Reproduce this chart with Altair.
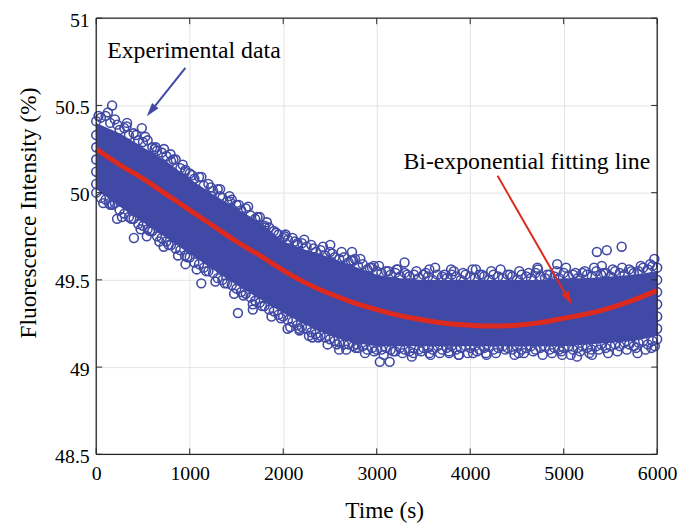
import altair as alt
import pandas as pd

BLUE = "#4049A5"
RED = "#DD2A1F"
DARK = "#262626"
FONT = "Liberation Serif"
W, H = 566, 440

x_ticks = [0, 1000, 2000, 3000, 4000, 5000, 6000]
y_ticks = [48.5, 49, 49.5, 50, 50.5, 51]

# fitted bi-exponential line
fit_t = [0, 250, 500, 750, 1000, 1250, 1500, 1750, 2000, 2250, 2500, 2750, 3000,
         3250, 3500, 3750, 4000, 4250, 4500, 4750, 5000, 5250, 5500, 5750, 6000]
fit_y = [50.25, 50.16, 50.08, 49.99, 49.90, 49.81, 49.72, 49.64, 49.555, 49.48, 49.42,
         49.37, 49.33, 49.295, 49.27, 49.25, 49.24, 49.235, 49.24, 49.255, 49.28,
         49.305, 49.34, 49.385, 49.44]

# dense core of the experimental scatter (inner envelope)
core_t = fit_t
core_hi = [50.40, 50.34, 50.26, 50.18, 50.08, 49.99, 49.91, 49.83, 49.72, 49.67, 49.63,
           49.58, 49.53, 49.51, 49.50, 49.50, 49.50, 49.50, 49.50, 49.50, 49.51, 49.51,
           49.52, 49.53, 49.55]
core_lo = [50.02, 49.92, 49.83, 49.74, 49.65, 49.56, 49.47, 49.39, 49.31, 49.24, 49.18,
           49.14, 49.12, 49.12, 49.12, 49.12, 49.12, 49.12, 49.12, 49.12, 49.12, 49.13,
           49.14, 49.15, 49.18]

# experimental points along the upper and lower edges of the cloud
edge_t = list(range(0, 6001, 50))
upper_y = [50.41, 50.43, 50.44, 50.40, 50.42, 50.36, 50.37, 50.33, 50.34, 50.30,
           50.29, 50.30, 50.26, 50.24, 50.23, 50.21, 50.18, 50.19, 50.14, 50.12,
           50.11, 50.08, 50.09, 50.04, 50.05, 50.01, 50.02, 49.97, 49.95, 49.96,
           49.93, 49.90, 49.91, 49.87, 49.85, 49.86, 49.80, 49.80, 49.78, 49.76,
           49.74, 49.73, 49.74, 49.70, 49.71, 49.69, 49.70, 49.66, 49.67, 49.64,
           49.66, 49.63, 49.62, 49.63, 49.60, 49.61, 49.58, 49.59, 49.56, 49.57,
           49.55,
           49.54, 49.55, 49.53, 49.54, 49.52, 49.54, 49.52, 49.53, 49.51, 49.53,
           49.52, 49.50, 49.53, 49.52, 49.51, 49.53, 49.52, 49.50, 49.53, 49.52,
           49.51, 49.53, 49.52, 49.50, 49.53, 49.52, 49.51, 49.53, 49.52, 49.50,
           49.53, 49.52, 49.51, 49.54, 49.52, 49.51, 49.53, 49.52, 49.51, 49.54,
           49.52, 49.53, 49.51, 49.54, 49.53, 49.52, 49.55, 49.53, 49.54, 49.52,
           49.55, 49.54, 49.53, 49.56, 49.54, 49.55, 49.57, 49.56, 49.58, 49.57]
lower_y = [50.00, 49.97, 49.96, 49.93, 49.94, 49.90, 49.88, 49.86, 49.85, 49.82,
           49.81, 49.79, 49.78, 49.75, 49.74, 49.72, 49.70, 49.68, 49.67, 49.64,
           49.63, 49.60, 49.59, 49.57, 49.55, 49.54, 49.51, 49.50, 49.48, 49.47,
           49.45, 49.43, 49.42, 49.40, 49.38, 49.37, 49.35, 49.33, 49.32, 49.30,
           49.29, 49.27, 49.26, 49.24, 49.23, 49.22, 49.20, 49.19, 49.18, 49.17,
           49.16, 49.15, 49.14, 49.13, 49.13, 49.12, 49.11, 49.12, 49.10, 49.11,
           49.10,
           49.10, 49.11, 49.10, 49.09, 49.11, 49.10, 49.09, 49.11, 49.10, 49.11,
           49.11, 49.10, 49.12, 49.10, 49.11, 49.12, 49.10, 49.11, 49.12, 49.11,
           49.12, 49.10, 49.11, 49.12, 49.10, 49.11, 49.12, 49.11, 49.10, 49.12,
           49.10, 49.11, 49.12, 49.10, 49.11, 49.12, 49.10, 49.11, 49.10, 49.11,
           49.12, 49.10, 49.11, 49.12, 49.11, 49.10, 49.12, 49.13, 49.11, 49.12,
           49.13, 49.12, 49.14, 49.13, 49.12, 49.14, 49.15, 49.13, 49.15, 49.16]

# sparser, more ragged outer rows of points
outer_up_t = list(range(25, 6000, 100))
outer_up_y = [50.44, 50.46, 50.39, 50.38, 50.33, 50.32, 50.25, 50.25, 50.19, 50.16,
              50.10, 50.09, 50.03, 50.02, 49.98, 49.93, 49.92, 49.86, 49.83, 49.77,
              49.76, 49.72, 49.73, 49.68, 49.69, 49.65, 49.66, 49.61, 49.62, 49.57,
              49.58, 49.55,
              49.56, 49.53, 49.55, 49.54, 49.57, 49.53, 49.55, 49.54, 49.56, 49.53,
              49.55, 49.56, 49.53, 49.55, 49.54, 49.56, 49.53, 49.55, 49.57, 49.54,
              49.55, 49.57, 49.54, 49.56, 49.57, 49.55, 49.58, 49.59]
outer_lo_t = list(range(75, 6000, 100))
outer_lo_y = [49.94, 49.93, 49.86, 49.85, 49.79, 49.78, 49.72, 49.70, 49.64, 49.63,
              49.56, 49.55, 49.49, 49.48, 49.42, 49.41, 49.36, 49.35, 49.29, 49.28,
              49.23, 49.22, 49.18, 49.17, 49.13, 49.13, 49.10, 49.11, 49.08, 49.09,
              49.07, 49.09, 49.08, 49.06, 49.09, 49.07, 49.08, 49.09, 49.07, 49.08,
              49.09, 49.07, 49.08, 49.10, 49.07, 49.08, 49.09, 49.07, 49.08, 49.09,
              49.07, 49.09, 49.08, 49.10, 49.08, 49.09, 49.10, 49.11, 49.10, 49.12]

# scattered outlying points
out_t = [170, 330, 488, 636, 795, 955, 1230, 1325, 1430, 1465, 1800, 2015, 2153, 2503,
         2736, 2768, 2969, 3213, 3298, 3563, 3796, 4061, 4719, 4931, 5355, 5408, 5461,
         5620, 5970,
         138, 223, 403, 541, 721, 955, 1124, 1516, 1675, 2047, 2174, 2312, 2598, 2789,
         3033, 3139, 3393, 3563, 3775, 3881, 4030, 4168, 4518, 4984, 5143, 5302, 5790,
         5939,
         0, 0, 0, 0, 0, 6000, 6000, 6000, 6000, 6000]
out_y = [50.50, 50.40, 50.37, 50.26, 50.22, 50.13, 49.98, 49.98, 49.95, 49.90, 49.81,
         49.75, 49.71, 49.70, 49.66, 49.62, 49.58, 49.56, 49.60, 49.56, 49.56, 49.56,
         49.57, 49.59, 49.66, 49.58, 49.67, 49.69, 49.62,
         49.94, 49.85, 49.74, 49.75, 49.69, 49.59, 49.48, 49.31, 49.33, 49.22, 49.21,
         49.17, 49.10, 49.13, 49.03, 49.03, 49.08, 49.08, 49.08, 49.07, 49.08, 49.08,
         49.08, 49.07, 49.06, 49.07, 49.08, 49.11,
         50.05, 50.12, 50.19, 50.26, 50.33, 49.22, 49.29, 49.36, 49.43, 49.50]

# annotations
ann_text = ["Experimental data", "Bi-exponential fitting line"]
ann_t = [117, 3286]
ann_y = [50.773, 50.136]
arrow_color = [BLUE, RED]
arrow_t0 = [954, 4293]
arrow_y0 = [50.716, 50.097]
arrow_t1 = [583, 5036]
arrow_y1 = [50.466, 49.403]
tip_t = [541, 5088]
tip_y = [50.4375, 49.358]
tip_angle = [218.5, 150]

xs = alt.Scale(domain=[0, 6000], nice=False, zero=False)
ys = alt.Scale(domain=[48.5, 51], nice=False, zero=False)

fit_df = pd.DataFrame({"t": fit_t, "y": fit_y})
core_df = pd.DataFrame({"t": core_t, "lo": core_lo, "hi": core_hi})
pts_df = pd.DataFrame({
    "t": edge_t + edge_t + outer_up_t + outer_lo_t + out_t,
    "y": upper_y + lower_y + outer_up_y + outer_lo_y + out_y,
})
ann_df = pd.DataFrame({"t": ann_t, "y": ann_y, "text": ann_text})
arr_df = pd.DataFrame({"t0": arrow_t0, "y0": arrow_y0, "t1": arrow_t1, "y1": arrow_y1,
                       "tt": tip_t, "ty": tip_y, "ang": tip_angle, "c": arrow_color})
xt_df = pd.DataFrame({"t": x_ticks})
yt_df = pd.DataFrame({"y": y_ticks})
one_df = pd.DataFrame({"a": [0]})

x_axis = alt.Axis(values=x_ticks, format="d", title="Time (s)", grid=True,
                  gridColor="#e4e4e4", gridWidth=1, ticks=False, domain=False,
                  labelFont=FONT, labelFontSize=20, labelColor="black", labelPadding=9,
                  labelFlush=False, labelOverlap=False,
                  titleFont=FONT, titleFontSize=23.5, titleFontWeight="normal",
                  titleColor="black", titleX=290.5, titleY=64, titleAlign="center",
                  titleBaseline="alphabetic")
y_axis = alt.Axis(values=y_ticks, format="~g", title="Fluorescence Intensity (%)",
                  grid=True, gridColor="#e4e4e4", gridWidth=1, ticks=False, domain=False,
                  labelFont=FONT, labelFontSize=20, labelColor="black", labelPadding=7,
                  labelOverlap=False, labelOffset=2,
                  titleFont=FONT, titleFontSize=23.5, titleFontWeight="normal",
                  titleColor="black", titleX=-61, titleY=196, titleAngle=270,
                  titleAlign="center", titleBaseline="alphabetic")


def X(field):
    return alt.X(field, scale=xs, axis=x_axis, title="Time (s)")


def Y(field):
    return alt.Y(field, scale=ys, axis=y_axis, title="Fluorescence Intensity (%)")


core = alt.Chart(core_df).mark_area(color=BLUE, opacity=1).encode(
    x=X("t:Q"), y=Y("lo:Q"), y2="hi:Q",
)

pts = alt.Chart(pts_df).mark_point(shape="circle", filled=False, size=80,
                                   strokeWidth=1.6, color=BLUE, opacity=1).encode(
    x=X("t:Q"), y=Y("y:Q"),
)

fit = alt.Chart(fit_df).mark_line(color=RED, strokeWidth=5, interpolate="monotone").encode(
    x=X("t:Q"), y=Y("y:Q"),
)

arrows = alt.Chart(arr_df).mark_rule(strokeWidth=2).encode(
    x=X("t0:Q"), y=Y("y0:Q"), x2="t1:Q", y2="y1:Q",
    color=alt.Color("c:N", scale=None, legend=None),
)

heads = alt.Chart(arr_df).mark_point(shape="M0,0L0.6,2L-0.6,2Z", filled=True, size=190,
                                     opacity=1, strokeWidth=0).encode(
    x=X("tt:Q"), y=Y("ty:Q"),
    angle=alt.Angle("ang:Q", scale=None),
    color=alt.Color("c:N", scale=None, legend=None),
)

texts = alt.Chart(ann_df).mark_text(align="left", baseline="alphabetic", font=FONT,
                                    fontSize=24, color="black").encode(
    x=X("t:Q"), y=Y("y:Q"), text="text:N",
)

tick_b = alt.Chart(xt_df).mark_rule(color=DARK, strokeWidth=1).encode(
    x=X("t:Q"), y=alt.value(H), y2=alt.value(H - 6))
tick_t = alt.Chart(xt_df).mark_rule(color=DARK, strokeWidth=1).encode(
    x=X("t:Q"), y=alt.value(0), y2=alt.value(6))
tick_l = alt.Chart(yt_df).mark_rule(color=DARK, strokeWidth=1).encode(
    y=Y("y:Q"), x=alt.value(0), x2=alt.value(6))
tick_r = alt.Chart(yt_df).mark_rule(color=DARK, strokeWidth=1).encode(
    y=Y("y:Q"), x=alt.value(W), x2=alt.value(W - 6))

frame_style = dict(color=DARK, strokeWidth=1.3)
fr_l = alt.Chart(one_df).mark_rule(**frame_style).encode(
    x=alt.value(0), y=alt.value(0), y2=alt.value(H))
fr_r = alt.Chart(one_df).mark_rule(**frame_style).encode(
    x=alt.value(W), y=alt.value(0), y2=alt.value(H))
fr_t = alt.Chart(one_df).mark_rule(**frame_style).encode(
    y=alt.value(0), x=alt.value(0), x2=alt.value(W))
fr_b = alt.Chart(one_df).mark_rule(**frame_style).encode(
    y=alt.value(H), x=alt.value(0), x2=alt.value(W))

chart = alt.layer(
    core, pts, fit, arrows, heads, texts,
    tick_b, tick_t, tick_l, tick_r, fr_l, fr_r, fr_t, fr_b,
).properties(
    width=W, height=H,
    autosize=alt.AutoSizeParams(type="none"),
    padding={"left": 89, "top": 8, "right": 20, "bottom": 68},
).configure_view(stroke=None)

chart.save("out.html", embed_options={"renderer": "svg", "actions": False})
